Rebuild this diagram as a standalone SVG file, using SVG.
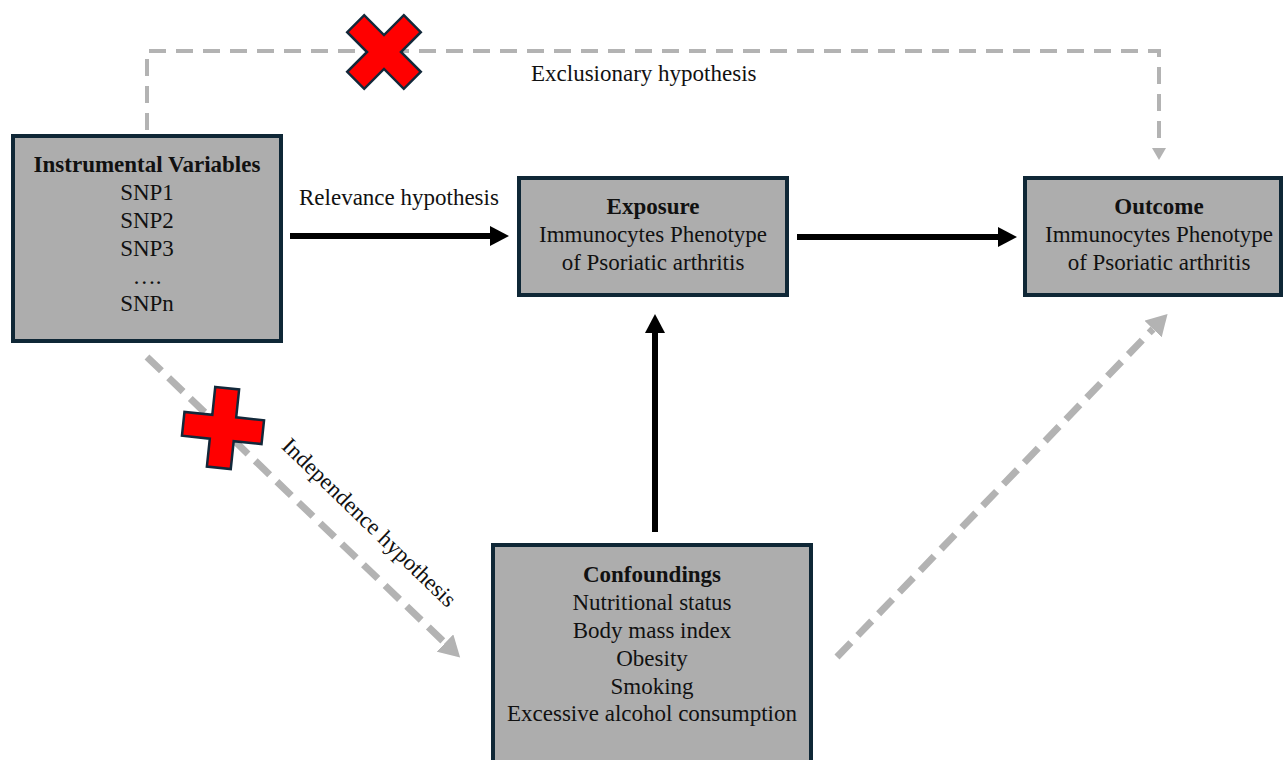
<svg xmlns="http://www.w3.org/2000/svg" width="1283" height="760" viewBox="0 0 1283 760">
<defs>
<style>
.box{fill:#adadad;stroke:#0f2736;stroke-width:4}
.t{font-family:"Liberation Serif","Times New Roman",serif;font-size:23px;fill:#111;text-anchor:middle}
.b{font-weight:bold}
.lbl{font-family:"Liberation Serif","Times New Roman",serif;font-size:23px;fill:#111}
.solid{stroke:#000;stroke-width:6;fill:none}
.dash{stroke:#b3b3b3;stroke-width:4;fill:none;stroke-dasharray:17 10}
.dashw{stroke:#b3b3b3;stroke-width:7;fill:none;stroke-dasharray:20 10}
.cross{fill:#ff0000;stroke:#12283a;stroke-width:2.5;stroke-linejoin:miter}
</style>
<marker id="ab" markerUnits="userSpaceOnUse" markerWidth="20" markerHeight="20" refX="0" refY="10" orient="auto"><path d="M0,0 L19,10 L0,20 z" fill="#000"/></marker>
<marker id="ag" markerUnits="userSpaceOnUse" markerWidth="14" markerHeight="14" refX="0" refY="7" orient="auto"><path d="M0,0 L12,7 L0,14 z" fill="#b3b3b3"/></marker>
<marker id="agw" markerUnits="userSpaceOnUse" markerWidth="22" markerHeight="24" refX="0" refY="12" orient="auto"><path d="M0,0 L21,12 L0,24 z" fill="#b3b3b3"/></marker>
<path id="plus" d="M-12,-40 H12 V-12 H40 V12 H12 V40 H-12 V12 H-40 V-12 H-12 Z"/>
</defs>

<g id="connectors">
<path class="dash" d="M147,130 V51 H1159 V148" marker-end="url(#ag)"/>
<line class="solid" x1="290" y1="236" x2="490" y2="236" marker-end="url(#ab)"/>
<line class="solid" x1="797" y1="237" x2="998" y2="237" marker-end="url(#ab)"/>
<line class="solid" x1="655" y1="532" x2="655" y2="333" marker-end="url(#ab)"/>
<line class="dashw" x1="147" y1="357" x2="445" y2="643" marker-end="url(#agw)"/>
<line class="dashw" x1="837" y1="657" x2="1153" y2="329" marker-end="url(#agw)"/>
<text class="lbl" x="299" y="205">Relevance hypothesis</text>
<text class="lbl" x="531" y="81">Exclusionary hypothesis</text>
<text class="t" transform="translate(364,528) rotate(44)">Independence hypothesis</text>
</g>

<g id="cross-exclusion"><use href="#plus" class="cross" transform="translate(384,52) rotate(45)"/></g>
<g id="cross-independence"><use href="#plus" class="cross" transform="translate(223,428) rotate(6)"/></g>

<g id="node-iv">
<rect class="box" x="13" y="136" width="268" height="205"/>
<text class="t b" x="147" y="172">Instrumental Variables</text>
<text class="t" x="147" y="200">SNP1</text>
<text class="t" x="147" y="228">SNP2</text>
<text class="t" x="147" y="256">SNP3</text>
<text class="t" x="147" y="284">….</text>
<text class="t" x="147" y="311">SNPn</text>
</g>

<g id="node-exposure">
<rect class="box" x="519" y="178" width="268" height="117"/>
<text class="t b" x="653" y="214">Exposure</text>
<text class="t" x="653" y="242">Immunocytes Phenotype</text>
<text class="t" x="653" y="270">of Psoriatic arthritis</text>
</g>

<g id="node-outcome">
<rect class="box" x="1025" y="178" width="256" height="117"/>
<text class="t b" x="1159" y="214">Outcome</text>
<text class="t" x="1159" y="242">Immunocytes Phenotype</text>
<text class="t" x="1159" y="270">of Psoriatic arthritis</text>
</g>

<g id="node-confoundings">
<rect class="box" x="493" y="545" width="318" height="230"/>
<text class="t b" x="652" y="582">Confoundings</text>
<text class="t" x="652" y="610">Nutritional status</text>
<text class="t" x="652" y="638">Body mass index</text>
<text class="t" x="652" y="666">Obesity</text>
<text class="t" x="652" y="694">Smoking</text>
<text class="t" x="652" y="721">Excessive alcohol consumption</text>
</g>
</svg>
